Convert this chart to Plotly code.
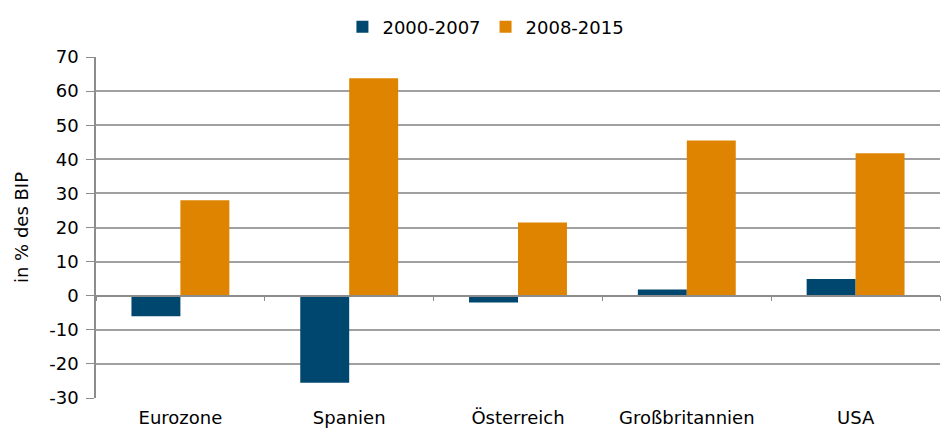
import plotly.graph_objects as go

# data
countries = ["Eurozone", "Spanien", "Österreich", "Großbritannien", "USA"]
period_1 = [-6.0, -25.5, -2.0, 1.8, 4.9]
period_2 = [28.0, 63.8, 21.5, 45.5, 41.8]
series_names = ["2000-2007", "2008-2015"]
y_ticks = list(range(-30, 71, 10))
y_tick_text = [str(v) for v in y_ticks]

BLUE = "#00476F"
ORANGE = "#DE8400"
GRID = "#A0A0A0"
AXIS = "#8C8C8C"
FONT = "DejaVu Sans, Arial, sans-serif"

fig = go.Figure()
fig.add_trace(go.Bar(
    x=countries, y=period_1, name=series_names[0],
    marker=dict(color=BLUE, line=dict(width=0)),
))
fig.add_trace(go.Bar(
    x=countries, y=period_2, name=series_names[1],
    marker=dict(color=ORANGE, line=dict(width=0)),
))

fig.update_layout(
    width=941,
    height=432,
    margin=dict(l=96, r=1, t=57, b=34),
    paper_bgcolor="white",
    plot_bgcolor="white",
    font=dict(family=FONT, size=18, color="#000000"),
    barmode="group",
    bargap=0.42,
    bargroupgap=0,
    showlegend=True,
    legend=dict(
        orientation="h",
        x=0.462, xanchor="center",
        y=1.088, yanchor="middle",
        font=dict(size=18),
        itemwidth=30,
        traceorder="normal",
    ),
    xaxis=dict(
        anchor="free",
        position=0.3,
        showline=True,
        linecolor=AXIS,
        linewidth=1.5,
        ticks="outside",
        tickson="boundaries",
        ticklen=5,
        tickcolor=AXIS,
        ticklabelstandoff=106,
        showgrid=False,
        automargin=False,
        tickfont=dict(size=18),
    ),
    yaxis=dict(
        range=[-30, 70],
        tickvals=y_ticks,
        ticktext=y_tick_text,
        showline=True,
        linecolor=AXIS,
        linewidth=1.5,
        ticks="outside",
        ticklen=8,
        tickcolor=AXIS,
        ticklabelstandoff=4,
        showgrid=True,
        gridcolor=GRID,
        gridwidth=1.5,
        zeroline=False,
        automargin=False,
        title=dict(text="in % des BIP", font=dict(size=18), standoff=16),
        tickfont=dict(size=18),
    ),
)

fig.write_html(
    "out.html",
    config={"displayModeBar": False},
    post_script="document.body.style.margin='0';",
)
